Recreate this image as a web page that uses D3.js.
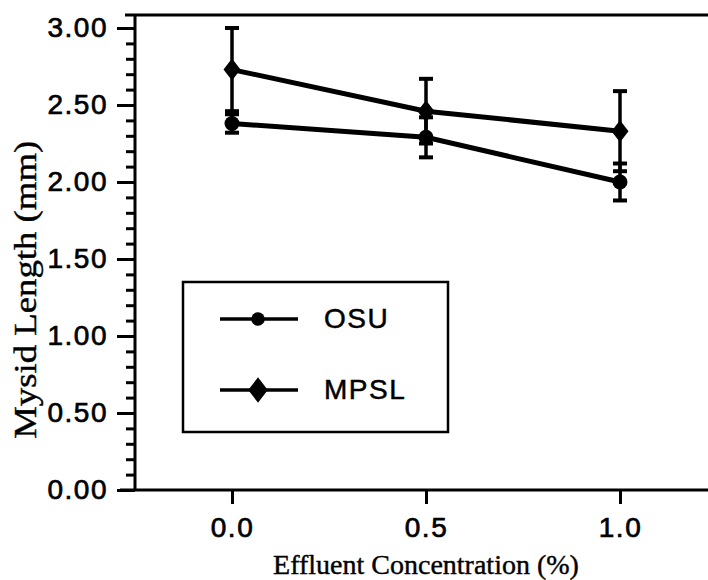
<!DOCTYPE html>
<html>
<head>
<meta charset="utf-8">
<script src="https://cdn.jsdelivr.net/npm/d3@7"></script>
<style>
  html, body { margin: 0; padding: 0; background: #fff; }
  svg { display: block; }
  .tick text { font-family: "Liberation Sans", Arial, sans-serif; font-size: 28px; fill: #000; letter-spacing: 1.5px; stroke: #000; stroke-width: 0.7px; }
  .tick line { stroke: #000; stroke-width: 3px; }
  .domain { display: none; }
</style>
</head>
<body>
<svg id="chart" width="708" height="580"></svg>
<script>
// ---- data ----
const concentrations = [0.0, 0.5, 1.0];
const seriesNames = ["OSU", "MPSL"];
const osuMean = [2.38, 2.29, 2.00];
const osuErr = [0.06, 0.13, 0.12];
const mpslMean = [2.73, 2.46, 2.33];
const mpslErr = [0.27, 0.21, 0.26];
const yMajorTicks = [0.00, 0.50, 1.00, 1.50, 2.00, 2.50, 3.00];
const yMinorTicks = d3.range(0, 31).map(i => i / 10).filter(v => Math.round(v * 10) % 5 !== 0);
const xTicks = [0.0, 0.5, 1.0];
const xTitle = "Effluent Concentration (%)";
const yTitle = "Mysid Length (mm)";

const series = [
  { name: seriesNames[0], mean: osuMean, err: osuErr, shape: "circle" },
  { name: seriesNames[1], mean: mpslMean, err: mpslErr, shape: "diamond" }
];

// ---- layout ----
const W = 708, H = 580;
const svg = d3.select("#chart");
const x = d3.scaleLinear().domain([-0.25, 1.25]).range([135, 717]);
const y = d3.scaleLinear().domain([0, 3]).range([490, 28]);
const left = x.range()[0], bottom = y.range()[0];

// frame lines
svg.append("line").attr("x1", left).attr("x2", left).attr("y1", 15).attr("y2", bottom)
  .attr("stroke", "#000").attr("stroke-width", 3);
svg.append("line").attr("x1", left - 10).attr("x2", W).attr("y1", 15).attr("y2", 15)
  .attr("stroke", "#000").attr("stroke-width", 3);
svg.append("line").attr("x1", left - 15).attr("x2", W).attr("y1", bottom).attr("y2", bottom)
  .attr("stroke", "#000").attr("stroke-width", 3);

// y axis minor
svg.append("g").attr("transform", `translate(${left},0)`)
  .call(d3.axisLeft(y).tickValues(yMinorTicks).tickSize(9).tickFormat(""));
// y axis major
svg.append("g").attr("transform", `translate(${left},0)`)
  .call(d3.axisLeft(y).tickValues(yMajorTicks).tickSize(18).tickPadding(9).tickFormat(d3.format(".2f")));
// x axis
svg.append("g").attr("transform", `translate(0,${bottom})`)
  .call(d3.axisBottom(x).tickValues(xTicks).tickSize(14).tickPadding(13).tickFormat(d3.format(".1f")));

// titles
svg.append("text").attr("x", x(0.5)).attr("y", 574).attr("text-anchor", "middle")
  .attr("font-family", "'Liberation Serif', 'Times New Roman', serif").attr("font-size", 28)
  .attr("stroke", "#000").attr("stroke-width", 0.4)
  .text(xTitle);
svg.append("text").attr("transform", `translate(36,${y(1.3)}) rotate(-90)`).attr("text-anchor", "middle")
  .attr("font-family", "'Liberation Serif', 'Times New Roman', serif").attr("font-size", 32)
  .attr("stroke", "#000").attr("stroke-width", 0.4)
  .attr("textLength", 298).attr("lengthAdjust", "spacingAndGlyphs")
  .text(yTitle);

// marker drawing
const diamond = "M0,-11 L8.5,0 L0,11 L-8.5,0 Z";
function drawMarker(g, shape, cx, cy, scale) {
  if (shape === "circle") {
    g.append("circle").attr("cx", cx).attr("cy", cy).attr("r", 7.5 * scale).attr("fill", "#000");
  } else {
    g.append("path").attr("d", diamond).attr("transform", `translate(${cx},${cy}) scale(${scale})`).attr("fill", "#000");
  }
}

const line = d3.line().x(d => x(d[0])).y(d => y(d[1]));
series.forEach(s => {
  const g = svg.append("g");
  const pts = concentrations.map((c, i) => [c, s.mean[i]]);
  // error bars
  concentrations.forEach((c, i) => {
    const cx = x(c), hi = y(s.mean[i] + s.err[i]), lo = y(s.mean[i] - s.err[i]);
    g.append("line").attr("x1", cx).attr("x2", cx).attr("y1", hi).attr("y2", lo)
      .attr("stroke", "#000").attr("stroke-width", 3.5);
    [hi, lo].forEach(yy => g.append("line").attr("x1", cx - 7).attr("x2", cx + 7).attr("y1", yy).attr("y2", yy)
      .attr("stroke", "#000").attr("stroke-width", 4));
  });
  g.append("path").attr("d", line(pts)).attr("fill", "none").attr("stroke", "#000").attr("stroke-width", 5);
  pts.forEach(p => drawMarker(g, s.shape, x(p[0]), y(p[1]), 1));
});

// legend
const lg = svg.append("g");
lg.append("rect").attr("x", 183).attr("y", 282).attr("width", 265).attr("height", 150)
  .attr("fill", "#fff").attr("stroke", "#000").attr("stroke-width", 2.5);
series.forEach((s, i) => {
  const ly = 319 + i * 71;
  lg.append("line").attr("x1", 220).attr("x2", 298).attr("y1", ly).attr("y2", ly)
    .attr("stroke", "#000").attr("stroke-width", 3.5);
  drawMarker(lg, s.shape, 258, ly, s.shape === "circle" ? 0.9 : 1.15);
  lg.append("text").attr("x", 324).attr("y", ly + 9)
    .attr("font-family", "'Liberation Sans', Arial, sans-serif").attr("font-size", 28)
    .attr("letter-spacing", "1.5px").attr("stroke", "#000").attr("stroke-width", 0.5).text(s.name);
});
</script>
</body>
</html>
